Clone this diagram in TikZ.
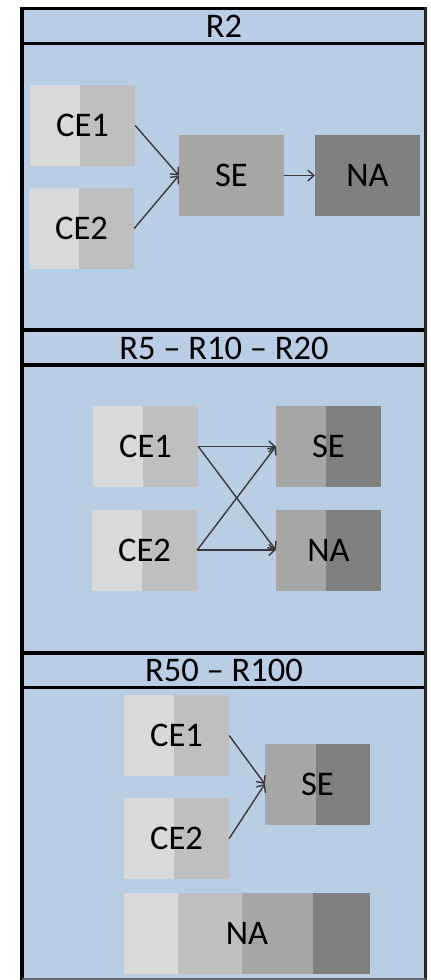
\documentclass[tikz,border=0pt]{standalone}
\usepackage{fontspec}
\setmainfont{Carlito}
\usetikzlibrary{arrows.meta}
\definecolor{panelblue}{HTML}{B9CDE5}
\definecolor{gA}{HTML}{D9D9D9}
\definecolor{gB}{HTML}{BFBFBF}
\definecolor{gC}{HTML}{A6A6A6}
\definecolor{gD}{HTML}{808080}
\definecolor{arrowc}{HTML}{3A3A3A}
\begin{document}
\begin{tikzpicture}[x=1pt,y=-1pt,
  txt/.style={font=\fontsize{34.5}{40}\selectfont, text=black},
  box/.style={txt, rectangle, inner sep=0pt, minimum width=105pt, minimum height=81pt},
  twotone/.style n args={3}{box, fill=#2, path picture={\fill[#1] (path picture bounding box.north west) rectangle ([xshift=#3]path picture bounding box.south west);}},
  cebox/.style={twotone={gA}{gB}{50pt}},
  darkbox/.style={twotone={gC}{gD}{50pt}},
  arr/.style={draw=arrowc, line width=1.4pt, -{Straight Barb[length=6pt,width=11pt]}},
  frameline/.style={line width=3.5pt, black},
  header/.style={txt, inner sep=0pt}
]
\useasboundingbox (0,0) rectangle (431,980);
\fill[white] (0,0) rectangle (431,980);
% panels background
\fill[panelblue] (22,8.5) rectangle (425.5,979);
% frame lines
\draw[frameline] (22,8.5) -- (425.5,8.5);
\draw[frameline] (22,43.5) -- (425.5,43.5);
\draw[frameline] (20,330) -- (425.5,330);
\draw[frameline] (22,365) -- (425.5,365);
\draw[frameline] (20,653) -- (425.5,653);
\draw[frameline] (22,687.5) -- (425.5,687.5);
\draw[frameline] (22,6.75) -- (22,980);
\draw[line width=3pt, black!85] (425.5,6.75) -- (425.5,980);
\draw[line width=2pt, black!60] (22,979) -- (425.5,979);

% headers
\node[header] (h1) at (224,26) {R2};
\node[header] (h2) at (224,348) {R5 – R10 – R20};
\node[header] (h3) at (224,670) {R50 – R100};

% panel 1
\node[cebox] (ce1a) at (82.5,125.5) {CE1};
\node[cebox] (ce2a) at (81.5,228.5) {CE2};
\node[box, fill=gC] (sea) at (231.5,175.5) {SE};
\node[box, fill=gD] (naa) at (367.5,175.5) {NA};
\draw[arr] (ce1a.east) -- (sea.west);
\draw[arr] (ce2a.east) -- (sea.west);
\draw[arr] (sea.east) -- (naa.west);

% panel 2
\node[cebox] (ce1b) at (145.5,446.5) {CE1};
\node[cebox] (ce2b) at (144.5,550) {CE2};
\node[darkbox] (seb) at (328.5,446.5) {SE};
\node[darkbox] (nab) at (328.5,550) {NA};
\draw[arr] (ce1b.east) -- (seb.west);
\draw[arr] (ce1b.east) -- (nab.west);
\draw[arr] (ce2b.east) -- (seb.west);
\draw[arr] (ce2b.east) -- (nab.west);

% panel 3
\node[cebox] (ce1c) at (176.5,735.5) {CE1};
\node[cebox] (ce2c) at (176.5,838.5) {CE2};
\node[twotone={gC}{gD}{51pt}] (sec) at (317.5,784) {SE};
\node[box, minimum width=246pt, fill=gD,
  path picture={
    \fill[gA] (path picture bounding box.north west) rectangle ([xshift=54pt]path picture bounding box.south west);
    \fill[gB] ([xshift=54pt]path picture bounding box.north west) rectangle ([xshift=118pt]path picture bounding box.south west);
    \fill[gC] ([xshift=118pt]path picture bounding box.north west) rectangle ([xshift=189pt]path picture bounding box.south west);
  }] (nac) at (247,933.5) {NA};
\draw[arr] (ce1c.east) -- (sec.west);
\draw[arr] (ce2c.east) -- (sec.west);
\end{tikzpicture}
\end{document}
